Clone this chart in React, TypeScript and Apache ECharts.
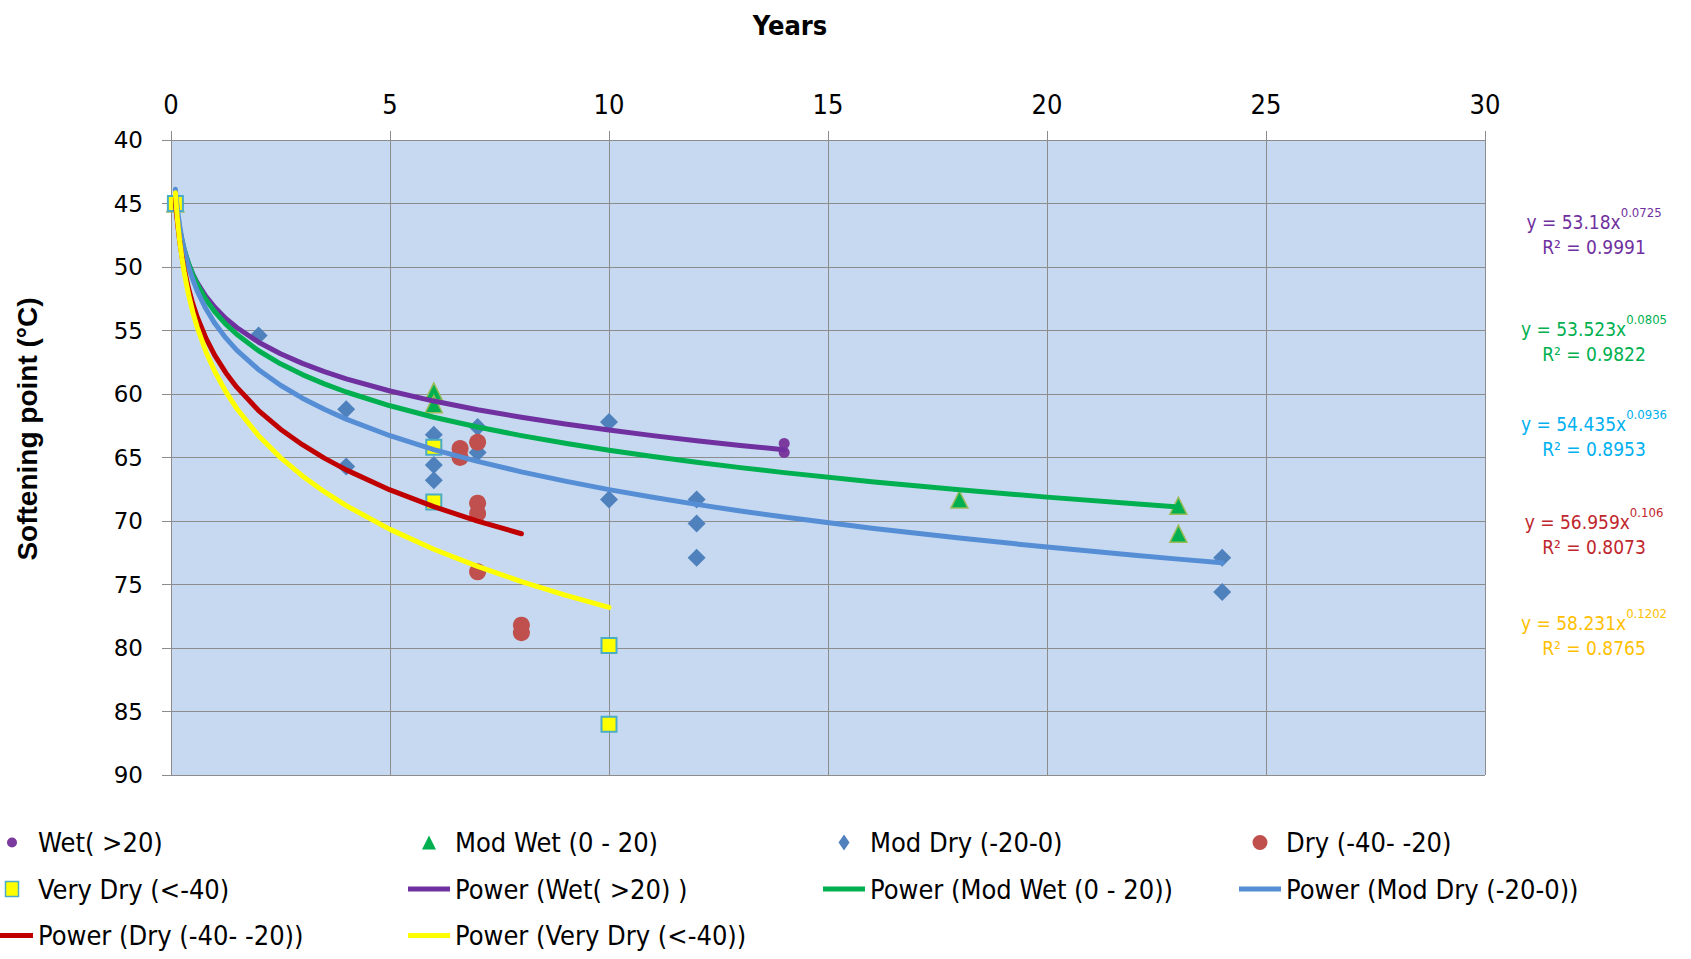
import React, { useEffect, useRef } from "react";
import * as echarts from "echarts";

// ---------- data ----------
const seriesNames = [
  "Wet( >20)",
  "Mod Wet (0 - 20)",
  "Mod Dry (-20-0)",
  "Dry (-40- -20)",
  "Very Dry (<-40)",
];
const trendNames = [
  "Power (Wet( >20) )",
  "Power (Mod Wet (0 - 20))",
  "Power (Mod Dry (-20-0))",
  "Power (Dry (-40- -20))",
  "Power (Very Dry (<-40))",
];

const wetPoints = [[0.1, 45], [14, 63.9], [14, 64.6]];
const modWetPoints = [[0.1, 45], [6, 59.8], [6, 60.8], [18, 68.3], [23, 68.8], [23, 71.0]];
const modDryPoints = [
  [0.1, 45], [2, 55.4], [4, 61.2], [4, 65.7], [6, 63.2], [6, 65.6], [6, 66.8],
  [7, 62.6], [7, 64.6], [10, 62.2], [10, 68.3], [12, 68.3], [12, 70.2], [12, 72.9],
  [24, 72.9], [24, 75.6],
];
const dryPoints = [
  [0.1, 45], [6.6, 64.3], [6.6, 65.0], [7, 63.8], [7, 68.6], [7, 69.4], [7, 74.0],
  [8, 78.2], [8, 78.8],
];
const veryDryPoints = [[0.1, 45], [6, 64.2], [6, 68.5], [10, 79.8], [10, 86.0]];

// power trend lines y = a * x^b, as printed on the chart
const trendA = [53.18, 53.523, 54.435, 56.959, 58.231];
const trendB = [0.0725, 0.0805, 0.0936, 0.106, 0.1202];
const trendXMin = [0.1, 0.1, 0.1, 0.1, 0.1];
const trendXMax = [14, 23, 24, 8, 10];
const sampleX = [
  0.1, 0.12, 0.15, 0.2, 0.25, 0.3, 0.4, 0.5, 0.6, 0.8, 1, 1.25, 1.5, 2, 2.5, 3, 3.5, 4,
  5, 6, 7, 8, 9, 10, 11, 12, 13, 14, 16, 18, 20, 22, 23, 24,
];

const eqMain = ["y = 53.18x", "y = 53.523x", "y = 54.435x", "y = 56.959x", "y = 58.231x"];
const eqExp = ["0.0725", "0.0805", "0.0936", "0.106", "0.1202"];
const eqR2 = ["R² = 0.9991", "R² = 0.9822", "R² = 0.8953", "R² = 0.8073", "R² = 0.8765"];

const xTickInterval = 5;
const yTickInterval = 5;

// ---------- styles ----------
const NARROW = "'Liberation Sans Narrow', 'DejaVu Sans Condensed', sans-serif";
const markerColors = ["#7A3A9E", "#00B050", "#4F81BD", "#C0504D", "#FFFF00"];
const lineColors = ["#7030A0", "#00B050", "#558ED5", "#C00000", "#FFFF00"];
const eqColors = ["#7030A0", "#00B050", "#00B0F0", "#C0262D", "#FFC000"];
const eqY = [231, 338, 433, 531, 632];
const GRID = "#8c8c8c";

const PAD = "M-10,-10 M10,10 ";
const legendIcons = [
  "path://" + PAD + "M-5,0 A5,5 0 1,0 5,0 A5,5 0 1,0 -5,0 Z",
  "path://" + PAD + "M0,-7 L7,7 L-7,7 Z",
  "path://" + PAD + "M0,-8 L5.5,0 L0,8 L-5.5,0 Z",
  "path://" + PAD + "M-7.5,0 A7.5,7.5 0 1,0 7.5,0 A7.5,7.5 0 1,0 -7.5,0 Z",
  "path://" + PAD + "M-6.5,-7.5 L6.5,-7.5 L6.5,7.5 L-6.5,7.5 Z",
];
const lineIcon = "path://M0,-10 M42,10 M0,-2.5 L42,-2.5 L42,2.5 L0,2.5 Z";

function buildTrend(i: number) {
  const xs = sampleX.filter((x) => x >= trendXMin[i] && x <= trendXMax[i]);
  if (xs[xs.length - 1] !== trendXMax[i]) xs.push(trendXMax[i]);
  return xs.map((x) => [x, trendA[i] * Math.pow(x, trendB[i])]);
}

export default function App() {
  const ref = useRef<HTMLDivElement>(null);
  useEffect(() => {
    if (!ref.current) return;
    const chart = echarts.init(ref.current, undefined, { renderer: "svg" });
    const pointSets = [wetPoints, modWetPoints, modDryPoints, dryPoints, veryDryPoints];
    const symbols = ["circle", "triangle", "diamond", "circle", "rect"];
    const sizes = [11, 17, 18, 17, 15];

    const scatterSeries = pointSets.map((pts, i) => ({
      type: "scatter",
      name: seriesNames[i],
      data: pts,
      symbol: symbols[i],
      symbolSize: sizes[i],
      z: 2,
      itemStyle: {
        color: markerColors[i],
        opacity: 1,
        borderColor: i === 1 ? "#9BBB59" : i === 4 ? "#4BACC6" : undefined,
        borderWidth: i === 1 ? 1.5 : i === 4 ? 2 : 0,
      },
    }));
    const lineSeries = trendNames.map((n, i) => ({
      type: "line",
      name: n,
      data: buildTrend(i),
      showSymbol: false,
      symbol: "none",
      z: 3,
      lineStyle: { color: lineColors[i], width: 5, cap: "round", join: "round" },
      itemStyle: { color: lineColors[i] },
    }));

    const markerItem = (i: number) => ({
      name: seriesNames[i],
      icon: legendIcons[i],
      itemStyle: {
        color: markerColors[i],
        borderColor: i === 4 ? "#4BACC6" : "transparent",
        borderWidth: i === 4 ? 1.5 : 0,
      },
    });
    const lineItem = (i: number) => ({
      name: trendNames[i],
      icon: lineIcon,
      itemStyle: { color: lineColors[i], borderWidth: 0 },
    });
    const legendBase = {
      orient: "vertical",
      top: 829,
      padding: 0,
      itemGap: 19.5,
      itemWidth: 42,
      itemHeight: 20,
      selectedMode: false,
      textStyle: { fontFamily: NARROW, fontSize: 27, color: "#000", padding: [0, 0, 0, 0] },
    };

    const graphics: any[] = [
      {
        type: "text",
        x: 790,
        y: 25,
        style: {
          text: "Years",
          font: `bold 27px ${NARROW}`,
          fill: "#000",
          textAlign: "center",
          textVerticalAlign: "middle",
        },
      },
      {
        type: "text",
        x: 27,
        y: 429,
        rotation: Math.PI / 2,
        style: {
          text: "Softening point (°C)",
          font: "bold 28px 'Liberation Sans', Arial, sans-serif",
          fill: "#000",
          textAlign: "center",
          textVerticalAlign: "middle",
        },
      },
    ];
    eqMain.forEach((t, i) => {
      graphics.push({
        type: "text",
        x: 1594,
        y: eqY[i],
        style: {
          text: `{a|${t}}{s|${eqExp[i]}}\n{a|${eqR2[i]}}`,
          textAlign: "center",
          textVerticalAlign: "middle",
          rich: {
            a: { fontFamily: NARROW, fontSize: 19, lineHeight: 25, fill: eqColors[i], verticalAlign: "bottom" },
            s: { fontFamily: NARROW, fontSize: 13, lineHeight: 21, fill: eqColors[i], verticalAlign: "top" },
          },
        },
      });
    });

    chart.setOption({
      animation: false,
      grid: {
        left: 171,
        top: 140,
        right: 206,
        bottom: 184,
        show: true,
        backgroundColor: "#C6D9F1",
        borderWidth: 0,
        containLabel: false,
      },
      xAxis: {
        type: "value",
        position: "top",
        min: 0,
        max: 30,
        interval: xTickInterval,
        axisLine: { show: true, lineStyle: { color: GRID, width: 1 } },
        axisTick: { show: true, inside: false, length: 9, lineStyle: { color: GRID } },
        splitLine: { show: true, lineStyle: { color: GRID, width: 1 } },
        axisLabel: { fontFamily: NARROW, fontSize: 27, color: "#000", margin: 22 },
      },
      yAxis: {
        type: "value",
        inverse: true,
        min: 40,
        max: 90,
        interval: yTickInterval,
        axisLine: { show: true, lineStyle: { color: GRID, width: 1 } },
        axisTick: { show: true, inside: false, length: 9, lineStyle: { color: GRID } },
        splitLine: { show: true, lineStyle: { color: GRID, width: 1 } },
        axisLabel: { fontFamily: "'DejaVu Sans', Verdana, sans-serif", fontSize: 23, color: "#000", margin: 28 },
      },
      legend: [
        { ...legendBase, left: -9, data: [markerItem(0), markerItem(4), lineItem(3)] },
        { ...legendBase, left: 408, data: [markerItem(1), lineItem(0), lineItem(4)] },
        { ...legendBase, left: 823, data: [markerItem(2), lineItem(1)] },
        { ...legendBase, left: 1239, data: [markerItem(3), lineItem(2)] },
      ],
      graphic: graphics,
      series: [...scatterSeries, ...lineSeries],
    });
    return () => chart.dispose();
  }, []);
  return (
    <div
      ref={ref}
      style={{ position: "absolute", left: 0, top: 0, width: 1691, height: 959, background: "#fff" }}
    />
  );
}
